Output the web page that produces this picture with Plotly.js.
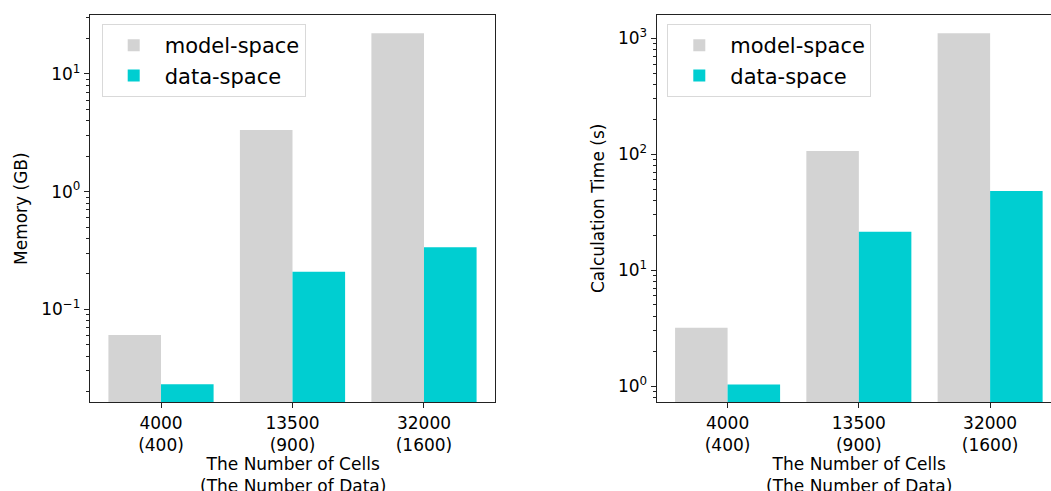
<!DOCTYPE html>
<html>
<head>
<meta charset="utf-8">
<script src="https://cdn.plot.ly/plotly-3.0.1.min.js"></script>
<style>
html,body{margin:0;padding:0;overflow:hidden;background:#fff;}
#chart{width:1070px;height:491px;}
</style>
</head>
<body>
<div id="chart"></div>
<script>
// ---- data ----
const categories = ["4000<br>(400)", "13500<br>(900)", "32000<br>(1600)"];
const seriesNames = ["model-space", "data-space"];
const memoryModel = [0.0605, 3.34, 22.2];
const memoryData = [0.0231, 0.208, 0.337];
const timeModel = [3.18, 106.7, 1105];
const timeData = [1.03, 21.4, 48.2];
const memTickVals = [0.1, 1, 10];
const memTickText = ["10<sup>\u22121</sup>", "10<sup>0</sup>", "10<sup>1</sup>"];
const timeTickVals = [1, 10, 100, 1000];
const timeTickText = ["10<sup>0</sup>", "10<sup>1</sup>", "10<sup>2</sup>", "10<sup>3</sup>"];

const W = 1070, H = 491;
const FONT = "DejaVu Sans, sans-serif";
const FS = 17;
const grey = "#d3d3d3", cyan = "#00ced1";
const idx = categories.map((_, i) => i);

function minorVals(lo, hi) {
  const v = [];
  for (let e = lo; e <= hi; e++) for (let m = 2; m <= 9; m++) v.push(m * Math.pow(10, e));
  return v;
}

const traces = [
  {type: "bar", x: idx, y: memoryModel, name: seriesNames[0], marker: {color: grey}, xaxis: "x", yaxis: "y", legend: "legend", offsetgroup: "a"},
  {type: "bar", x: idx, y: memoryData, name: seriesNames[1], marker: {color: cyan}, xaxis: "x", yaxis: "y", legend: "legend", offsetgroup: "b"},
  {type: "bar", x: idx, y: timeModel, name: seriesNames[0], marker: {color: grey}, xaxis: "x2", yaxis: "y2", legend: "legend2", offsetgroup: "a"},
  {type: "bar", x: idx, y: timeData, name: seriesNames[1], marker: {color: cyan}, xaxis: "x2", yaxis: "y2", legend: "legend2", offsetgroup: "b"}
];

const xCommon = {
  tickmode: "array", tickvals: idx, ticktext: categories,
  range: [-0.54, 2.54], showline: true, mirror: true, linecolor: "#222", linewidth: 1.2,
  ticks: "outside", ticklen: 5, tickcolor: "#222", showgrid: false, zeroline: false,
  tickfont: {family: FONT, size: FS, color: "#000"}, automargin: false
};
const yCommon = {
  type: "log", showline: true, mirror: true, linecolor: "#222", linewidth: 1.2,
  ticks: "outside", ticklen: 5, tickcolor: "#222", showgrid: false, zeroline: false,
  tickfont: {family: FONT, size: FS, color: "#000"}, automargin: false, tickmode: "array"
};

const legendCommon = {
  font: {family: FONT, size: 21, color: "#000"}, bgcolor: "rgba(255,255,255,0.8)",
  bordercolor: "#d9d9d9", borderwidth: 1, xanchor: "left", yanchor: "top",
  itemwidth: 52, tracegroupgap: 0
};

const titleFont = {family: FONT, size: FS, color: "#000"};

const layout = {
  width: W, height: H,
  margin: {l: 0, r: 0, t: 15, b: 89},
  paper_bgcolor: "#fff", plot_bgcolor: "#fff",
  barmode: "group", bargap: 0.2, bargroupgap: 0,
  font: {family: FONT, size: FS, color: "#000"},
  xaxis: Object.assign({}, xCommon, {domain: [90 / W, 495 / W], anchor: "y"}),
  xaxis2: Object.assign({}, xCommon, {domain: [656.7 / W, 1061 / W], anchor: "y2"}),
  yaxis: Object.assign({}, yCommon, {domain: [0, 1], anchor: "x", range: [-1.788, 1.501],
    tickvals: memTickVals, ticktext: memTickText,
    minor: {tickmode: "array", tickvals: minorVals(-2, 1), ticklen: 3, tickcolor: "#222", ticks: "outside", showgrid: false}}),
  yaxis2: Object.assign({}, yCommon, {domain: [0, 1], anchor: "x2", range: [-0.138, 3.201],
    tickvals: timeTickVals, ticktext: timeTickText,
    minor: {tickmode: "array", tickvals: minorVals(-1, 3), ticklen: 3, tickcolor: "#222", ticks: "outside", showgrid: false}}),
  legend: Object.assign({}, legendCommon, {x: 101.7 / W, y: (402 - 24) / 387}),
  legend2: Object.assign({}, legendCommon, {x: 667.3 / W, y: (402 - 24) / 387}),
  annotations: [
    {text: "Memory (GB)", textangle: -90, xref: "paper", yref: "paper", x: 20.5 / W, y: 0.5, showarrow: false, xanchor: "center", yanchor: "middle", font: titleFont},
    {text: "Calculation Time (s)", textangle: -90, xref: "paper", yref: "paper", x: 597.5 / W, y: 0.5, showarrow: false, xanchor: "center", yanchor: "middle", font: titleFont},
    {text: "The Number of Cells<br>(The Number of Data)", xref: "paper", yref: "paper", x: 292.5 / W, y: (402 - 475) / 387, showarrow: false, xanchor: "center", yanchor: "middle", font: titleFont},
    {text: "The Number of Cells<br>(The Number of Data)", xref: "paper", yref: "paper", x: 858.7 / W, y: (402 - 475) / 387, showarrow: false, xanchor: "center", yanchor: "middle", font: titleFont}
  ],
  showlegend: true
};

Plotly.newPlot("chart", traces, layout, {displayModeBar: false, staticPlot: true});
</script>
</body>
</html>
